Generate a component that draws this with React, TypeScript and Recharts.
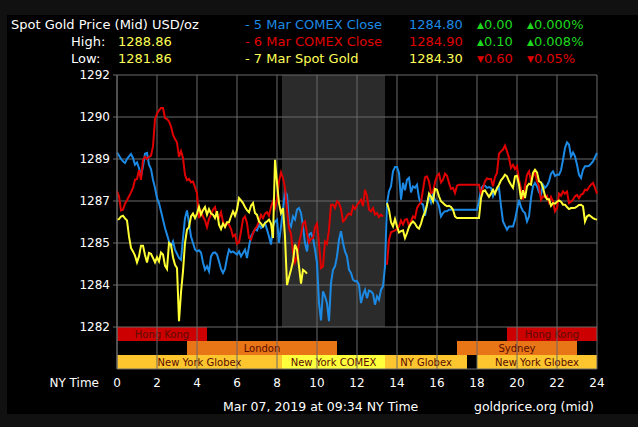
import React from "react";
import { LineChart, Line, XAxis, YAxis, ReferenceArea, CartesianGrid } from "recharts";

// NY time, one point every 0.1 h (index / 10)
const X_TICKS = [0, 2, 4, 6, 8, 10, 12, 14, 16, 18, 20, 22, 24];
const Y_TICKS = [1282.2, 1283.8, 1285.4, 1287.0, 1288.6, 1290.2, 1291.8];
const Y_MIN = 1280.6;

// 5 Mar COMEX Close
const BLUE_A = [
  1288.85, 1288.73, 1288.6, 1288.51, 1288.45, 1288.6, 1288.7, 1288.79, 1288.64, 1288.38,
  1288.47, 1288.26, 1287.94, 1288.32, 1288.8, 1288.83, 1288.38, 1288.22, 1287.81, 1287.5,
  1287.11, 1286.92, 1286.61, 1286.29, 1285.97, 1285.72, 1285.46, 1285.27, 1285.46, 1285.15,
  1284.99, 1284.83, 1284.76, 1285.59, 1286.35, 1286.64, 1286.16, 1285.65, 1285.4, 1285.15,
  1285.08, 1285.12, 1285.04, 1284.66, 1284.38, 1284.51, 1284.32, 1284.89, 1285.02, 1285.04,
  1284.96, 1284.7, 1284.41, 1284.26, 1284.41, 1284.83, 1285.15, 1285.04, 1285.08, 1285.02,
];
const BLUE_B = [
  1284.96, 1285.08, 1284.89, 1285.02, 1285.15, 1284.83, 1285.27, 1285.65, 1285.78, 1285.93,
  1285.88, 1286.1, 1285.97, 1286.03, 1286.16, 1285.91, 1285.65, 1285.34, 1286.03, 1286.22,
  1286.29, 1285.4, 1286.03, 1286.67, 1287.37, 1287.24, 1286.16, 1286.03, 1286.41, 1286.29,
  1286.67, 1286.73, 1286.54, 1286.03, 1285.4, 1285.08, 1285.72, 1285.78, 1285.59, 1285.15,
  1284.64, 1283.11, 1282.45, 1283.56, 1283.37, 1283.11, 1282.42, 1283.88, 1284.38, 1284.51,
  1284.89, 1285.53, 1285.85, 1285.4, 1285.08, 1284.89, 1284.38, 1284.26, 1284.0, 1283.94,
];
const BLUE_C = [
  1283.95, 1283.81, 1283.11, 1283.43, 1283.62, 1283.3, 1283.59, 1283.56, 1283.47, 1283.05,
  1283.37, 1283.24, 1283.62, 1283.75, 1284.51, 1286.92, 1287.37, 1287.56, 1288.13, 1288.3,
  1288.3, 1288.07, 1287.05, 1287.69, 1287.41, 1287.81, 1287.88, 1287.33, 1287.56, 1287.5,
  1287.62, 1287.11, 1286.92, 1286.86, 1286.44, 1286.86, 1287.2, 1286.95, 1287.28, 1287.03,
  1286.99, 1286.8, 1286.41, 1286.54, 1286.61, 1286.61, 1286.67, 1286.67, 1286.67, 1286.67,
  1286.67, 1286.67, 1286.67, 1286.67, 1286.67, 1286.67, 1286.67, 1286.67, 1286.67, 1286.67,
];
const BLUE_D = [
  1286.67, 1286.99, 1287.46, 1287.58, 1287.58, 1287.5, 1287.53, 1287.5, 1287.18, 1287.37,
  1287.43, 1287.5, 1286.8, 1286.22, 1286.06, 1285.91, 1286.03, 1286.03, 1286.03, 1286.29,
  1286.67, 1287.05, 1286.77, 1286.61, 1286.54, 1286.22, 1286.41, 1287.11, 1287.56, 1287.69,
  1287.56, 1287.33, 1287.24, 1287.62, 1287.5, 1287.58, 1287.75, 1288.04, 1288.13, 1287.96,
  1288.0, 1288.0, 1288.17, 1288.57, 1289.02, 1289.23, 1289.15, 1288.7, 1288.85, 1288.7,
  1288.38, 1288.0, 1287.88, 1288.19, 1288.32, 1288.32, 1288.34, 1288.42, 1288.51, 1288.67,
  1288.83,
];

// 6 Mar COMEX Close
const RED_A = [
  1287.37, 1287.18, 1286.64, 1286.67, 1286.9, 1287.03, 1287.18, 1287.33, 1287.5, 1287.81,
  1287.84, 1288.17, 1287.81, 1288.57, 1288.68, 1288.6, 1288.68, 1288.73, 1289.08, 1290.12,
  1290.33, 1290.45, 1290.54, 1290.54, 1290.16, 1290.12, 1290.03, 1289.84, 1289.53, 1289.36,
  1289.23, 1288.68, 1288.9, 1288.64, 1288.0, 1287.79, 1287.84, 1287.71, 1287.75, 1287.53,
  1287.3, 1286.35, 1286.61, 1286.41, 1286.26, 1286.0, 1286.31, 1286.48, 1286.67, 1286.77,
  1286.41, 1286.35, 1286.57, 1286.22, 1286.03, 1286.16, 1286.1, 1285.93, 1285.65, 1285.72,
];
const RED_B = [
  1285.37, 1285.42, 1285.84, 1286.31, 1286.41, 1286.16, 1285.59, 1285.53, 1285.78, 1285.93,
  1286.03, 1286.22, 1286.47, 1286.35, 1286.52, 1286.57, 1286.44, 1286.77, 1286.99, 1286.73,
  1287.05, 1287.75, 1288.09, 1287.88, 1287.5, 1286.67, 1285.97, 1285.75, 1285.04, 1284.66,
  1284.89, 1285.4, 1285.72, 1286.14, 1286.22, 1285.78, 1285.42, 1285.55, 1285.59, 1286.0,
  1286.14, 1285.4, 1284.45, 1284.51, 1285.46, 1285.37, 1285.91, 1286.86, 1286.86, 1286.73,
  1286.99, 1286.92, 1286.69, 1286.22, 1286.29, 1286.44, 1286.52, 1286.48, 1286.8, 1286.69,
];
const RED_C = [
  1286.84, 1286.95, 1287.05, 1286.8, 1287.43, 1287.18, 1286.67, 1286.61, 1286.73, 1286.48,
  1286.54, 1286.39, 1286.48, 1286.41, null, 1284.57, 1285.53, 1285.81, 1285.84, 1285.88,
  1285.93, 1286.03, 1286.26, 1286.1, 1286.29, 1286.31, 1286.06, 1286.22, 1286.41, 1286.35,
  1286.73, 1286.86, 1286.95, 1287.43, 1287.9, 1287.94, 1287.75, 1287.3, 1287.33, 1287.71,
  1287.96, 1288.04, 1287.71, 1287.81, 1288.04, 1287.96, 1287.69, 1287.46, 1287.5, 1287.3,
  1287.58, 1287.62, 1287.62, 1287.62, 1287.62, 1287.62, 1287.62, 1287.62, 1287.62, 1287.62,
];
const RED_D = [
  1287.62, 1287.62, 1287.28, 1287.5, 1287.75, 1287.86, 1287.84, 1287.84, 1287.56, 1287.91,
  1288.07, 1288.8, 1288.89, 1288.96, 1289.11, 1288.89, 1288.64, 1288.26, 1288.38, 1288.22,
  1288.32, 1287.81, 1287.46, 1287.05, 1287.58, 1288.0, 1288.13, 1287.75, 1287.96, 1288.07,
  1287.75, 1287.56, 1287.05, 1287.18, 1287.14, 1287.2, 1286.95, 1287.16, 1286.99, 1286.61,
  1286.73, 1287.28, 1287.2, 1287.37, 1287.28, 1287.36, 1286.92, 1286.97, 1287.05, 1287.18,
  1287.23, 1287.11, 1287.24, 1287.28, 1287.43, 1287.41, 1287.53, 1287.62, 1287.69, 1287.5,
  1287.28,
];

// 7 Mar Spot Gold
const YELLOW_A = [
  1286.29, 1286.31, 1286.41, 1286.44, 1286.34, 1286.26, 1285.65, 1285.21, 1285.08, 1284.92,
  1284.66, 1284.89, 1285.3, 1285.3, 1284.94, 1284.66, 1285.02, 1284.99, 1284.83, 1284.66,
  1284.86, 1284.7, 1285.04, 1284.96, 1284.54, 1284.41, 1285.4, 1285.34, 1284.86, 1284.57,
  1284.45, 1282.42, 1283.52, 1284.32, 1285.4, 1285.91, 1286.01, 1286.41, 1286.52, 1286.35,
  1286.52, 1286.77, 1286.48, 1286.65, 1286.77, 1286.48, 1286.69, 1286.52, 1286.48, 1286.35,
  1286.61, 1286.1, 1285.93, 1286.14, 1286.01, 1286.19, 1286.19, 1286.41, 1286.61, 1286.44,
];
const YELLOW_B = [
  1286.67, 1287.11, 1287.02, 1286.92, 1286.77, 1286.65, 1286.57, 1286.82, 1286.92, 1286.54,
  1286.47, 1286.22, 1286.14, 1286.03, 1286.16, 1286.22, 1286.29, 1286.14, 1285.59, 1288.57,
  1287.69, 1286.92, 1286.54, 1286.73, 1285.65, 1283.8, 1284.1, 1284.38, 1284.7, 1285.34,
  1285.15, 1284.51, 1283.85, 1284.38, 1284.32, 1284.23, null, null, null, null,
  null, null, null, null, null, null, null, null, null, null,
  null, null, null, null, null, null, null, null, null, null,
];
const YELLOW_C = [
  null, null, null, null, null, null, null, null, null, null,
  null, null, null, null, null, 1286.92, 1286.67, 1286.19, 1286.03, 1286.31,
  1286.03, 1285.8, 1285.85, 1285.88, 1285.59, 1285.78, 1286.01, 1286.14, 1286.22, 1286.14,
  1286.01, 1285.95, 1286.14, 1286.41, 1286.57, 1286.86, 1287.28, 1287.16, 1286.99, 1287.46,
  1287.43, 1287.18, 1286.99, 1286.92, 1286.85, 1286.8, 1286.82, 1286.77, 1286.67, 1286.41,
  1286.35, 1286.35, 1286.35, 1286.35, 1286.35, 1286.35, 1286.35, 1286.35, 1286.35, 1286.35,
];
const YELLOW_D = [
  1286.35, 1286.35, 1287.11, 1287.37, 1287.41, 1287.28, 1287.16, 1287.28, 1287.43, 1287.28,
  1287.5, 1287.62, 1287.79, 1287.88, 1288.0, 1287.94, 1287.75, 1287.62, 1287.5, 1287.94,
  1287.96, 1287.62, 1287.07, 1287.41, 1287.11, 1287.56, 1287.66, 1287.62, 1288.07, 1288.19,
  1288.09, 1287.75, 1287.71, 1287.5, 1287.2, 1287.07, 1287.07, 1286.82, 1286.92, 1286.9,
  1286.97, 1287.02, 1286.97, 1286.86, 1286.86, 1286.77, 1286.69, 1286.73, 1286.73, 1286.74,
  1286.79, 1286.85, 1286.86, 1286.8, 1286.22, 1286.41, 1286.47, 1286.41, 1286.35, 1286.31,
  1286.29,
];

// trading sessions (hours, NY time) and the strip row they sit in
const SESSION_NAMES = ["Hong Kong", "London", "New York Globex", "New York COMEX", "NY Globex", "Sydney", "New York Globex", "Hong Kong"];
const SESSION_START = [0, 3.5, 0, 8.25, 13.4, 17, 18, 19.5];
const SESSION_END = [4.5, 11, 8.25, 13.4, 17.5, 23, 24, 24];
const SESSION_ROW = [0, 1, 2, 2, 2, 1, 2, 0];

const BLUE = [...BLUE_A, ...BLUE_B, ...BLUE_C, ...BLUE_D];
const RED = [...RED_A, ...RED_B, ...RED_C, ...RED_D];
const YELLOW = [...YELLOW_A, ...YELLOW_B, ...YELLOW_C, ...YELLOW_D];

const FONT = "DejaVu Sans";
const GRID = "#6a6a6a";
const C_BLUE = "#1c8ae4";
const C_RED = "#e00000";
const C_YELLOW = "#ffff33";
const C_GREEN = "#1ed81e";

const sessionFill = (name: string) => {
  if (name === "Hong Kong") return "#cc0000";
  if (name === "London" || name === "Sydney") return "#e87516";
  if (name === "New York COMEX") return "#ffff3c";
  return "#fdc62e";
};

const W = 638;
const H = 427;

export default function App() {
  const data = BLUE.map((b, i) => ({ h: i / 10, blue: b, red: RED[i], yellow: YELLOW[i] }));
  const rowH = (Y_TICKS[0] - Y_MIN) / 3;

  const hdr = (x: number, y: number, fill: string, s: string) => (
    <text x={x} y={y} fill={fill} fontSize={13}>{s}</text>
  );
  const chg = (x: number, y: number, up: boolean, s: string) => (
    <text x={x} y={y} fill={up ? C_GREEN : C_RED} fontSize={13}>
      <tspan fontSize={9} dy={-1}>{up ? "▲" : "▼"}</tspan>
      <tspan dy={1}>{s}</tspan>
    </text>
  );

  const layer: React.CSSProperties = { position: "absolute", left: 0, top: 0 };

  return (
    <div style={{ position: "absolute", left: 0, top: 0, width: W, height: H, background: "#111", fontFamily: FONT }}>
      <div style={{ position: "absolute", left: 7, top: 15, width: 631, height: 399, background: "#000" }} />

      {/* back layer: COMEX shading and trading-session strips */}
      <div style={layer}>
        <LineChart width={W} height={H} data={data} margin={{ top: 75, right: 41, bottom: 58, left: 117 }}>
          <XAxis type="number" dataKey="h" domain={[0, 24]} hide />
          <YAxis domain={[Y_MIN, Y_TICKS[6]]} allowDataOverflow hide />
          <ReferenceArea x1={8.25} x2={13.4} y1={Y_TICKS[0]} y2={Y_TICKS[6]} fill="#2b2b2b" fillOpacity={1} stroke="none" />
          {SESSION_NAMES.map((name, i) => (
            <ReferenceArea
              key={"s" + i}
              x1={SESSION_START[i]}
              x2={SESSION_END[i]}
              y1={Y_TICKS[0] - rowH * (SESSION_ROW[i] + 1)}
              y2={Y_TICKS[0] - rowH * SESSION_ROW[i]}
              fill={sessionFill(name)}
              fillOpacity={1}
              stroke="none"
              label={{ value: name, position: "center", fill: "#5a0c00", fontSize: 10, fontFamily: FONT }}
            />
          ))}
        </LineChart>
      </div>

      {/* front layer: grid, axes and the three price lines */}
      <div style={layer}>
        <LineChart width={W} height={H} data={data} margin={{ top: 75, right: 41, bottom: 28, left: 57 }}>
          <CartesianGrid stroke={GRID} strokeWidth={1} />
          <XAxis
            type="number"
            dataKey="h"
            domain={[0, 24]}
            ticks={X_TICKS}
            height={30}
            axisLine={false}
            tickLine={false}
            tickMargin={3}
            tick={{ fill: "#fff", fontSize: 12, fontFamily: FONT }}
          />
          <YAxis
            domain={[Y_MIN, Y_TICKS[6]]}
            ticks={Y_TICKS}
            width={60}
            allowDataOverflow
            tickFormatter={(v: number) => String(Math.round(v))}
            axisLine={{ stroke: GRID }}
            tickLine={{ stroke: GRID }}
            tickSize={4}
            tickMargin={3}
            tick={{ fill: "#fff", fontSize: 12, fontFamily: FONT }}
          />
          <Line type="linear" dataKey="blue" stroke={C_BLUE} strokeWidth={2} dot={false} isAnimationActive={false} />
          <Line type="linear" dataKey="red" stroke={C_RED} strokeWidth={2} dot={false} isAnimationActive={false} />
          <Line type="linear" dataKey="yellow" stroke={C_YELLOW} strokeWidth={2} dot={false} isAnimationActive={false} />
        </LineChart>
      </div>

      <svg width={W} height={H} style={{ position: "absolute", left: 0, top: 0, pointerEvents: "none" }} fontFamily={FONT}>
        {hdr(11, 29, "#fff", "Spot Gold Price (Mid) USD/oz")}
        {hdr(71, 45.5, "#fff", "High:")}
        {hdr(118, 45.5, "#ffff55", "1288.86")}
        {hdr(71, 62.5, "#fff", "Low:")}
        {hdr(118, 62.5, "#ffff55", "1281.86")}

        {hdr(245, 29, C_BLUE, "- 5 Mar COMEX Close")}
        {hdr(409, 29, C_BLUE, "1284.80")}
        {chg(477, 29, true, "0.00")}
        {chg(527, 29, true, "0.000%")}

        {hdr(245, 45.5, C_RED, "- 6 Mar COMEX Close")}
        {hdr(409, 45.5, C_RED, "1284.90")}
        {chg(477, 45.5, true, "0.10")}
        {chg(527, 45.5, true, "0.008%")}

        {hdr(245, 62.5, "#ffff55", "- 7 Mar Spot Gold")}
        {hdr(409, 62.5, "#ffff55", "1284.30")}
        {chg(477, 62.5, false, "0.60")}
        {chg(527, 62.5, false, "0.05%")}

        <text x={99} y={387} fill="#fff" fontSize={12} textAnchor="end">NY Time</text>
        <text x={223} y={411} fill="#fff" fontSize={12.5}>Mar 07, 2019 at 09:34 NY Time</text>
        <text x={474} y={411} fill="#fff" fontSize={12.5}>goldprice.org (mid)</text>
      </svg>
    </div>
  );
}
